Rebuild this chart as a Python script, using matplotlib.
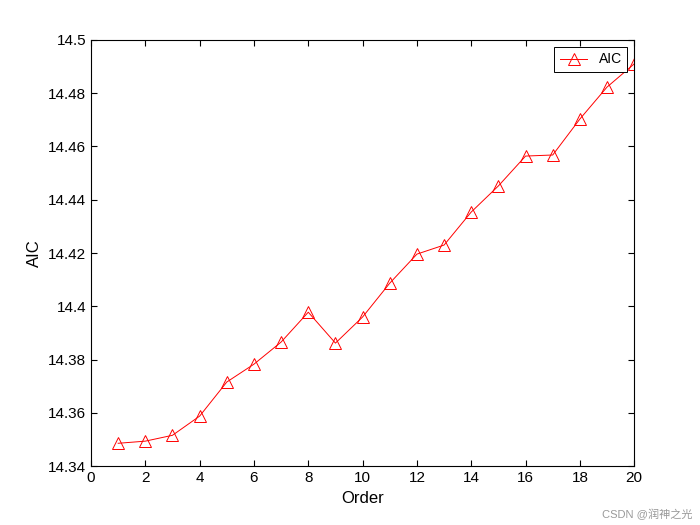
import matplotlib
matplotlib.use('Agg')
from matplotlib import pyplot as plt

plt.rcParams['font.family'] = ['Liberation Sans', 'Noto Sans CJK SC', 'DejaVu Sans']

order = list(range(1, 21))
aic = [14.3486, 14.3494, 14.3516, 14.3588, 14.3716, 14.3783, 14.3866, 14.3978, 14.3862, 14.3960,
       14.4087, 14.4196, 14.4230, 14.4354, 14.4452, 14.4564, 14.4568, 14.4703, 14.4823, 14.4910]

fig = plt.figure(figsize=(7, 5.25), dpi=100)
ax = fig.add_axes([0.13, 0.112, 0.776, 0.812])
ax.plot(order, aic, color='red', lw=0.7, marker='^', markersize=8,
        markerfacecolor='none', markeredgecolor='red', markeredgewidth=0.7, label='AIC')
ax.set_xlim(0, 20)
ax.set_ylim(14.34, 14.5)
ax.set_xticks(range(0, 21, 2))
ax.set_yticks([14.34 + 0.02 * i for i in range(9)])
ax.set_yticklabels(['14.34', '14.36', '14.38', '14.4', '14.42', '14.44', '14.46', '14.48', '14.5'])
ax.tick_params(direction='in', labelsize=11, length=4, top=True, right=True)
ax.set_xlabel('Order', fontsize=12)
ax.set_ylabel('AIC', fontsize=12)
leg = ax.legend(loc='upper right', fontsize=10, fancybox=False, edgecolor='black', framealpha=1)
leg.get_frame().set_linewidth(0.7)
fig.text(0.99, 0.01, 'CSDN @润神之光', ha='right', va='bottom', fontsize=8, color='#999999')
fig.savefig('out.png')
